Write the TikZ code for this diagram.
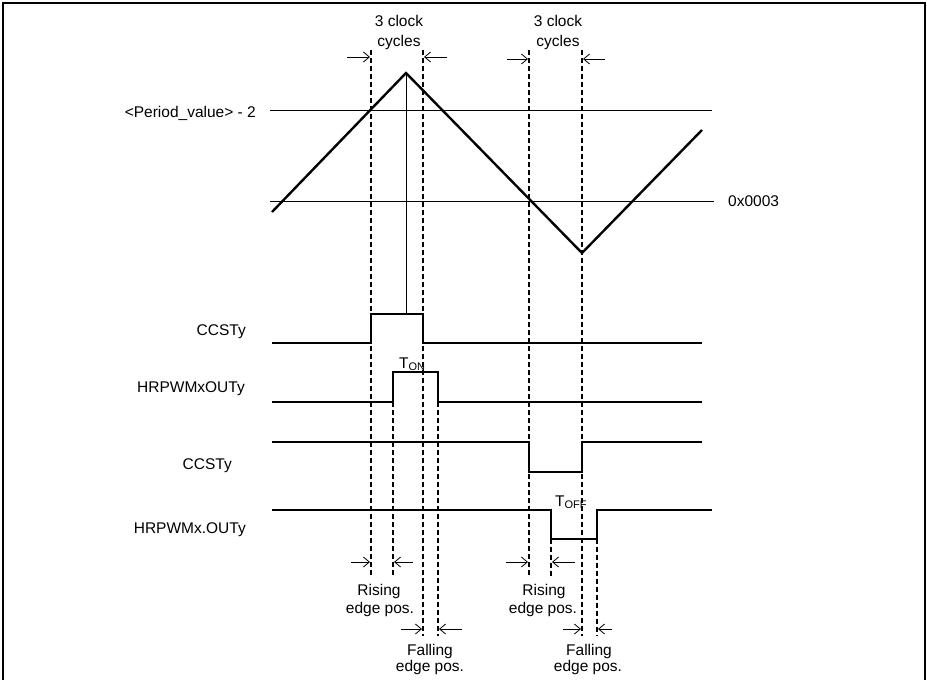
\documentclass[tikz,border=0pt]{standalone}
\usepackage{fontspec}
\setmainfont{Liberation Sans}
\usetikzlibrary{arrows.meta}
\begin{document}
\begin{tikzpicture}[x=1pt,y=-1pt,
  lbl/.style={font=\fontsize{15.5}{18}\selectfont, inner sep=0pt},
  sig/.style={line width=2.4pt, line join=miter},
  thinline/.style={line width=1pt},
  dsh/.style={line width=1.5pt, dash pattern=on 5pt off 3pt},
  mk/.style={line width=0.8pt, -{Straight Barb[length=6pt,width=10pt]}},
]
\useasboundingbox (0,0) rectangle (927,680);
% frame
\draw[line width=2pt] (3,680) -- (3,3) -- (925,3) -- (925,680);
% reference levels
\draw[thinline] (270,110) -- (712,110);
\draw[thinline] (270,201) -- (714,201);
% dashed guides
\draw[dsh] (371,50) -- (371,577);
\draw[dsh] (393,402) -- (393,577);
\draw[dsh] (423,50) -- (423,636);
\draw[dsh] (438,402) -- (438,636);
\draw[dsh] (529,50) -- (529,577);
\draw[dsh] (551,539) -- (551,577);
\draw[dsh] (582,50) -- (582,636);
\draw[dsh] (597,539) -- (597,636);
% triangle counter
\draw[sig] (272,212) -- (406,73) -- (582,253) -- (702,130);
\draw[thinline] (406,73) -- (406,314);
% signals
\draw[sig] (272,343) -- (371,343) -- (371,314) -- (423,314) -- (423,343) -- (702,343);
\draw[sig] (272,402) -- (393,402) -- (393,372) -- (438,372) -- (438,402) -- (702,402);
\draw[sig] (272,442) -- (529,442) -- (529,472) -- (582,472) -- (582,442) -- (702,442);
\draw[sig] (272,510) -- (551,510) -- (551,539) -- (597,539) -- (597,510) -- (712,510);
% arrows top
\draw[mk] (347,57) -- (370,57);
\draw[mk] (447,57) -- (424,57);
\draw[mk] (507,59) -- (528,59);
\draw[mk] (605,59) -- (583,59);
% arrows bottom
\draw[mk] (351,562) -- (370,562);
\draw[mk] (413,562) -- (394,562);
\draw[mk] (401,629) -- (422,629);
\draw[mk] (462,629) -- (439,629);
\draw[mk] (506,562) -- (528,562);
\draw[mk] (575,562) -- (552,562);
\draw[mk] (563,629) -- (581,629);
\draw[mk] (612,629) -- (598,629);
% texts
\node[lbl, anchor=base] (c1a) at (399,27) {3 clock};
\node[lbl, anchor=base] (c1b) at (399,46.5) {cycles};
\node[lbl, anchor=base] (c2a) at (558,27) {3 clock};
\node[lbl, anchor=base] (c2b) at (558,46.5) {cycles};
\node[lbl, anchor=base east] (pv) at (256,117) {<Period\_value> - 2};
\node[lbl, anchor=base west] (z3) at (728,206.7) {0x0003};
\node[lbl, anchor=base east] (s1) at (246,335) {CCSTy};
\node[lbl, anchor=base east] (s2) at (245,392.7) {HRPWMxOUTy};
\node[lbl, anchor=base east] (s3) at (232,469.3) {CCSTy};
\node[lbl, anchor=base east] (s4) at (246,533) {HRPWMx.OUTy};
\node[lbl, anchor=base west] (ton) at (399,368) {T\raisebox{-2pt}{\fontsize{11}{11}\selectfont ON}};
\node[lbl, anchor=base west] (toff) at (555,506) {T\raisebox{-2pt}{\fontsize{11}{11}\selectfont OFF}};
\node[lbl, anchor=base] (r1a) at (379,595) {Rising};
\node[lbl, anchor=base] (r1b) at (380,613.3) {edge pos.};
\node[lbl, anchor=base] (f1a) at (430,655) {Falling};
\node[lbl, anchor=base] (f1b) at (430,671.7) {edge pos.};
\node[lbl, anchor=base] (r2a) at (544,595) {Rising};
\node[lbl, anchor=base] (r2b) at (543,613.3) {edge pos.};
\node[lbl, anchor=base] (f2a) at (589,655) {Falling};
\node[lbl, anchor=base] (f2b) at (588,671.7) {edge pos.};
\end{tikzpicture}
\end{document}
